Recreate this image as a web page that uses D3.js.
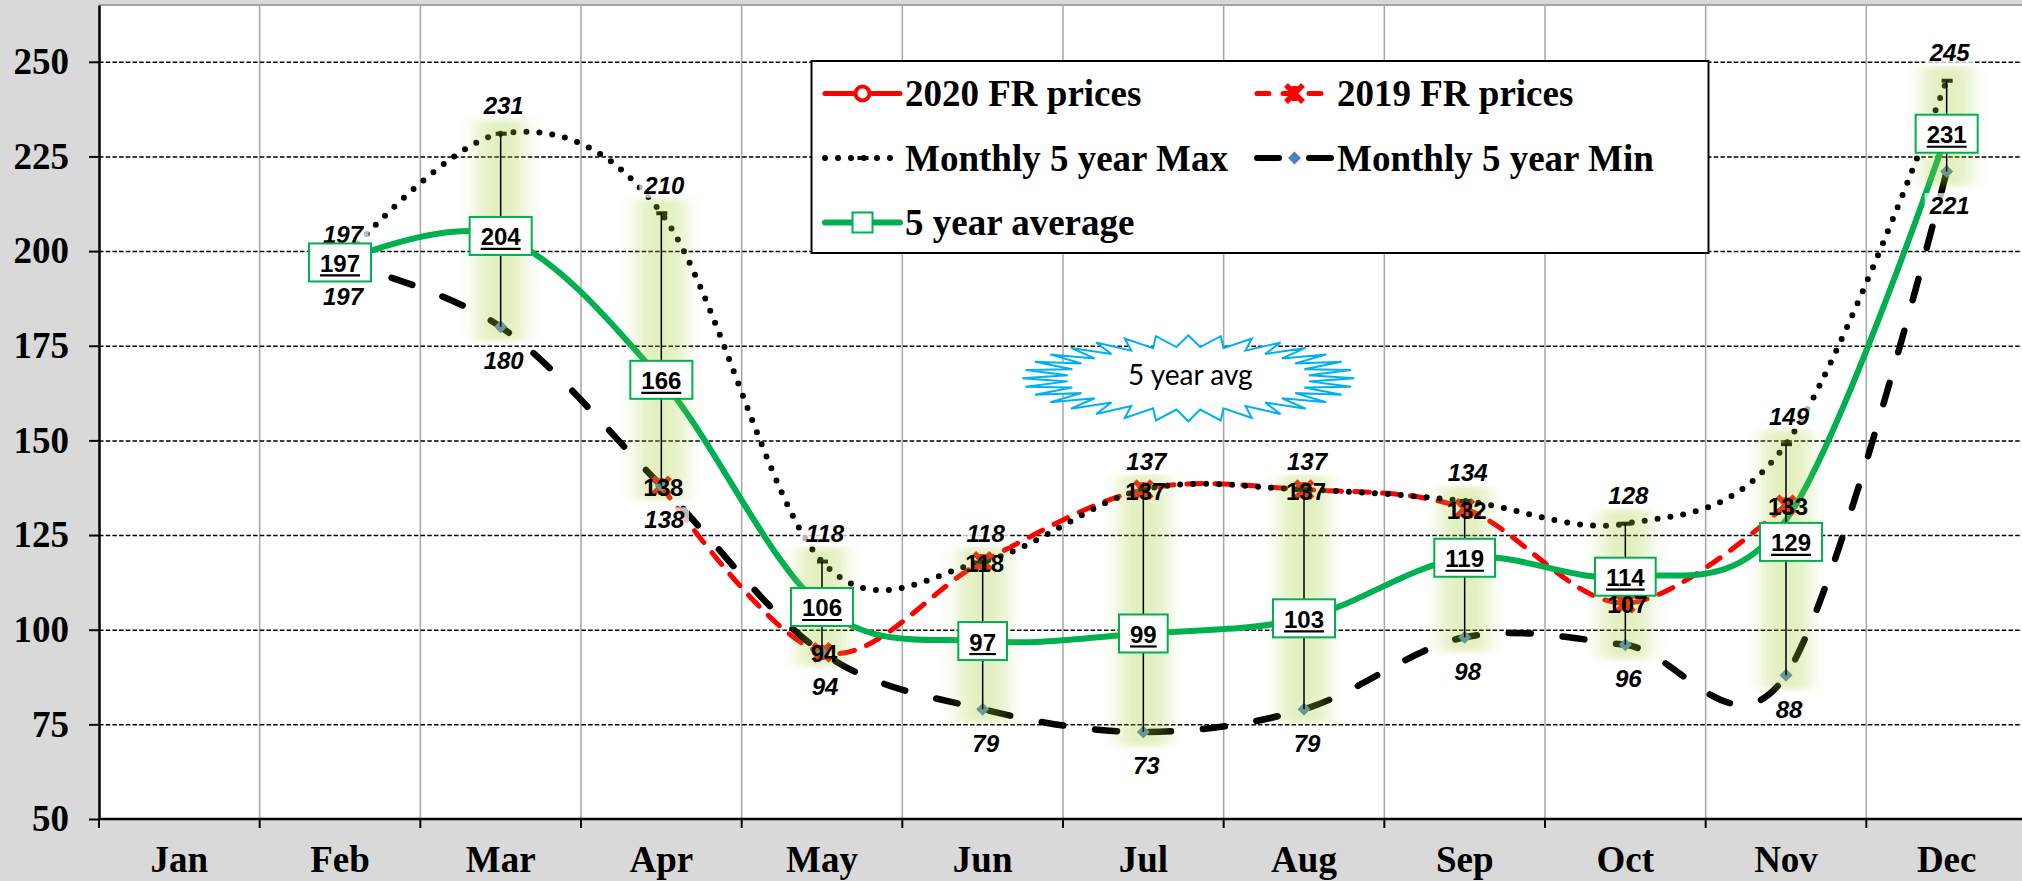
<!DOCTYPE html>
<html>
<head>
<meta charset="utf-8">
<script src="https://cdn.jsdelivr.net/npm/d3@7"></script>
<style>
  html, body { margin: 0; padding: 0; background: #d9d9d9; }
  svg { display: block; }
</style>
</head>
<body>
<div id="chart"></div>
<script>
const months = ["Jan", "Feb", "Mar", "Apr", "May", "Jun", "Jul", "Aug", "Sep", "Oct", "Nov", "Dec"];
const prices2020 = [null, null, null, null, null, null, null, null, null, null, null, null];
const prices2019 = [null, null, null, 138, 94, 118, 137, 137, 132, 107, 133, null];
const max5 = [null, 197, 231, 210, 118, 118, 137, 137, 134, 128, 149, 245];
const min5 = [null, 197, 180, 138, 94, 79, 73, 79, 98, 96, 88, 221];
const avg5 = [null, 197, 204, 166, 106, 97, 99, 103, 119, 114, 129, 231];
const yTicks = [50, 75, 100, 125, 150, 175, 200, 225, 250];
const legendNames = ["2020 FR prices", "2019 FR prices", "Monthly 5 year Max", "Monthly 5 year Min", "5 year average"];
const calloutText = "5 year avg";

const W = 2022, H = 881;
const plot = { left: 99, right: 2027, top: 5, bottom: 819 };
const SERIF = "'Liberation Serif', 'Times New Roman', serif";
const SANS = "'Liberation Sans', Arial, sans-serif";
const RED = "#ff0000", GREEN = "#00b050", BLUE = "#4f81bd";

// the Nov average label was dragged down below the 2019 label in the original
const avgLabelShift = { Nov: 22 };

const svg = d3.select("#chart").append("svg").attr("width", W).attr("height", H);

const x = d3.scaleBand().domain(months).range([plot.left, plot.right]);
const y = d3.scaleLinear().domain([50, 265]).range([plot.bottom, plot.top]);
const cx = m => x(m) + x.bandwidth() / 2;

const series = arr => months.map((m, i) => ({ m, v: arr[i] }));

// glow filter
const defs = svg.append("defs");
defs.append("filter").attr("id", "glow")
  .attr("x", "-100%").attr("y", "-20%").attr("width", "300%").attr("height", "140%")
  .append("feGaussianBlur").attr("stdDeviation", "9 3");

// background + plot area
svg.append("rect").attr("width", W).attr("height", H).attr("fill", "#d9d9d9");
svg.append("rect")
  .attr("x", plot.left).attr("y", plot.top)
  .attr("width", W - plot.left).attr("height", plot.bottom - plot.top)
  .attr("fill", "#fff");
svg.append("line")
  .attr("x1", plot.left).attr("x2", W).attr("y1", plot.top).attr("y2", plot.top)
  .attr("stroke", "#a6a6a6").attr("stroke-width", 2);

// vertical gridlines at month boundaries
svg.append("g").selectAll("line")
  .data(months.slice(1))
  .join("line")
  .attr("x1", d => x(d)).attr("x2", d => x(d))
  .attr("y1", plot.top).attr("y2", plot.bottom)
  .attr("stroke", "#a6a6a6").attr("stroke-width", 1.5);

// horizontal gridlines
svg.append("g")
  .attr("transform", `translate(${plot.left},0)`)
  .call(d3.axisLeft(y).tickValues(yTicks.slice(1)).tickSize(-(W - plot.left)).tickFormat(""))
  .call(g => g.select(".domain").remove())
  .call(g => g.selectAll(".tick line")
    .attr("stroke", "#000").attr("stroke-width", 1.5).attr("stroke-dasharray", "4.5 2.2"));

// lines
const line = d3.line()
  .defined(d => d.v != null)
  .x(d => cx(d.m))
  .y(d => y(d.v))
  .curve(d3.curveCatmullRom.alpha(0));

const gLines = svg.append("g").attr("fill", "none");

gLines.append("path").attr("d", line(series(prices2020)))
  .attr("stroke", RED).attr("stroke-width", 5);

gLines.append("path").attr("d", line(series(prices2019)))
  .attr("stroke", RED).attr("stroke-width", 5)
  .attr("stroke-dasharray", "15 13").attr("stroke-linecap", "round");

gLines.append("path").attr("d", line(series(max5)))
  .attr("stroke", "#000").attr("stroke-width", 6)
  .attr("stroke-dasharray", "0 13").attr("stroke-linecap", "round");

gLines.append("path").attr("d", line(series(min5)))
  .attr("stroke", "#000").attr("stroke-width", 6.5)
  .attr("stroke-dasharray", "22 32").attr("stroke-linecap", "round");

gLines.append("path").attr("d", line(series(avg5)))
  .attr("stroke", GREEN).attr("stroke-width", 6);

// markers
function starMarker(g, px, py) {
  const s = 8.5;
  g.append("path")
    .attr("d", `M${px - s},${py - s}L${px + s},${py + s}M${px - s},${py + s}L${px + s},${py - s}M${px},${py - s + 1}L${px},${py + s - 1}`)
    .attr("stroke", RED).attr("stroke-width", 5.5).attr("fill", "none");
}
function diamondMarker(g, px, py) {
  const s = 6.5;
  g.append("path")
    .attr("d", `M${px},${py - s}L${px + s},${py}L${px},${py + s}L${px - s},${py}Z`)
    .attr("fill", BLUE);
}
function dashMarker(g, px, py) {
  g.append("rect").attr("x", px - 5).attr("y", py - 2).attr("width", 11).attr("height", 4).attr("fill", "#000");
}

const gMarks = svg.append("g");
series(prices2019).filter(d => d.v != null).forEach(d => starMarker(gMarks, cx(d.m), y(d.v)));
series(max5).filter(d => d.v != null).forEach(d => dashMarker(gMarks, cx(d.m), y(d.v)));
series(min5).filter(d => d.v != null).forEach(d => diamondMarker(gMarks, cx(d.m), y(d.v)));

// high-low glow + lines
const hl = months.map((m, i) => ({ m, hi: max5[i], lo: min5[i] }))
  .filter(d => d.hi != null && d.lo != null && d.hi !== d.lo);

svg.append("g").selectAll("rect")
  .data(hl)
  .join("rect")
  .attr("x", d => cx(d.m) - 24)
  .attr("width", 48)
  .attr("y", d => y(d.hi) - 14)
  .attr("height", d => y(d.lo) - y(d.hi) + 28)
  .attr("fill", "rgb(160,205,45)")
  .attr("opacity", 0.3)
  .attr("filter", "url(#glow)");

svg.append("g").selectAll("line")
  .data(hl)
  .join("line")
  .attr("x1", d => cx(d.m)).attr("x2", d => cx(d.m))
  .attr("y1", d => y(d.hi)).attr("y2", d => y(d.lo))
  .attr("stroke", "#000").attr("stroke-width", 1.5);

// axes
const yAxis = svg.append("g")
  .attr("transform", `translate(${plot.left},0)`)
  .call(d3.axisLeft(y).tickValues(yTicks).tickSize(10).tickSizeOuter(0).tickPadding(20));
yAxis.select(".domain").attr("stroke", "#000").attr("stroke-width", 2.5);
yAxis.selectAll(".tick line").attr("stroke", "#000").attr("stroke-width", 2);
yAxis.selectAll(".tick text")
  .attr("font-family", SERIF).attr("font-weight", "bold").attr("font-size", 37).attr("fill", "#000");

const xAxis = svg.append("g")
  .attr("transform", `translate(0,${plot.bottom})`)
  .call(d3.axisBottom(x).tickSize(0).tickSizeOuter(0).tickPadding(27));
xAxis.select(".domain").remove();
xAxis.selectAll(".tick text")
  .attr("font-family", SERIF).attr("font-weight", "bold").attr("font-size", 37).attr("fill", "#000");

svg.append("line")
  .attr("x1", plot.left).attr("x2", W).attr("y1", plot.bottom).attr("y2", plot.bottom)
  .attr("stroke", "#000").attr("stroke-width", 2.5);
svg.append("g").selectAll("line")
  .data(months)
  .join("line")
  .attr("x1", d => x(d)).attr("x2", d => x(d))
  .attr("y1", plot.bottom).attr("y2", plot.bottom + 9)
  .attr("stroke", "#000").attr("stroke-width", 2);

// data labels
const gLabels = svg.append("g");

function bgLabel(px, py, txt, italic) {
  const g = gLabels.append("g");
  const bg = g.append("rect").attr("fill", "#fff").attr("opacity", 0.72);
  const t = g.append("text")
    .attr("x", px).attr("y", py + 8.5)
    .attr("text-anchor", "middle")
    .attr("font-family", SANS).attr("font-weight", "bold")
    .attr("font-style", italic ? "italic" : "normal")
    .attr("font-size", 24).attr("fill", "#000")
    .text(txt);
  const bb = t.node().getBBox();
  bg.attr("x", bb.x - 4).attr("y", bb.y + 1).attr("width", bb.width + 8).attr("height", bb.height - 2);
}

series(max5).filter(d => d.v != null).forEach(d => bgLabel(cx(d.m) + 3, y(d.v) - 28, d.v, true));
series(min5).filter(d => d.v != null).forEach(d => bgLabel(cx(d.m) + 3, y(d.v) + 34, d.v, true));

// 5-year average boxes
series(avg5).filter(d => d.v != null).forEach(d => {
  const px = cx(d.m) + (d.m === "Nov" ? 5 : 0);
  const py = y(d.v) + (avgLabelShift[d.m] || 0);
  const g = gLabels.append("g");
  const box = g.append("rect").attr("fill", "#fff").attr("stroke", GREEN).attr("stroke-width", 2);
  const t = g.append("text")
    .attr("x", px).attr("y", py + 9.5)
    .attr("text-anchor", "middle")
    .attr("font-family", SANS).attr("font-weight", "bold").attr("font-size", 24)
    .text(d.v);
  const len = t.node().getComputedTextLength();
  g.append("line")
    .attr("x1", px - len / 2).attr("x2", px + len / 2)
    .attr("y1", py + 13).attr("y2", py + 13)
    .attr("stroke", "#000").attr("stroke-width", 2.2);
  box.attr("x", px - len / 2 - 11).attr("y", py - 19).attr("width", len + 22).attr("height", 38);
});

// 2019 labels sit on top of their markers
gLabels.selectAll(".lab2019")
  .data(series(prices2019).filter(d => d.v != null))
  .join("text")
  .attr("class", "lab2019")
  .attr("x", d => cx(d.m) + 2).attr("y", d => y(d.v) + 10)
  .attr("text-anchor", "middle")
  .attr("font-family", SANS).attr("font-weight", "bold").attr("font-size", 24)
  .text(d => d.v);

// callout starburst
const calloutX = x("Jul") + x.bandwidth() * 0.78;
const calloutY = y(166.4);
const nPts = 32, rx = 166, ry = 43, inner = 0.73;
const starPts = d3.range(nPts * 2).map(i => {
  const a = -Math.PI / 2 + i * Math.PI / nPts;
  const r = i % 2 === 0 ? 1 : inner;
  return [calloutX + rx * r * Math.cos(a), calloutY + ry * r * Math.sin(a)];
});
svg.append("path")
  .attr("d", d3.line()(starPts) + "Z")
  .attr("fill", "#fff").attr("stroke", "#00b0f0").attr("stroke-width", 2);
svg.append("text")
  .attr("x", calloutX + 2).attr("y", calloutY + 7)
  .attr("text-anchor", "middle")
  .attr("font-family", "Lato, 'Open Sans', sans-serif").attr("font-size", 28).attr("fill", "#000")
  .text(calloutText);

// legend
const lg = svg.append("g");
lg.append("rect")
  .attr("x", 811.5).attr("y", 61).attr("width", 897).attr("height", 192)
  .attr("fill", "#fff").attr("stroke", "#000").attr("stroke-width", 2);

const legendPos = [
  { x: 825, y: 93.5 }, { x: 1257, y: 93.5 },
  { x: 825, y: 158 }, { x: 1257, y: 158 },
  { x: 825, y: 222.5 }
];
const symW = 75;

legendPos.forEach((p, i) => {
  const mid = p.x + symW / 2;
  const ln = lg.append("line").attr("x1", p.x).attr("x2", p.x + symW).attr("y1", p.y).attr("y2", p.y);
  if (i === 0) {
    ln.attr("stroke", RED).attr("stroke-width", 5).attr("stroke-linecap", "round");
    lg.append("circle").attr("cx", mid).attr("cy", p.y).attr("r", 7)
      .attr("fill", "#fff").attr("stroke", RED).attr("stroke-width", 4);
  } else if (i === 1) {
    ln.attr("stroke", RED).attr("stroke-width", 5).attr("stroke-linecap", "round").attr("stroke-dasharray", "12 14");
    starMarker(lg, mid, p.y);
  } else if (i === 2) {
    ln.attr("stroke", "#000").attr("stroke-width", 6).attr("stroke-linecap", "round").attr("stroke-dasharray", "0 13");
    dashMarker(lg, mid, p.y);
  } else if (i === 3) {
    ln.attr("stroke", "#000").attr("stroke-width", 6).attr("stroke-linecap", "round").attr("stroke-dasharray", "22 30");
    diamondMarker(lg, mid, p.y);
  } else {
    ln.attr("stroke", GREEN).attr("stroke-width", 6).attr("stroke-linecap", "round");
    lg.append("rect").attr("x", mid - 10).attr("y", p.y - 10).attr("width", 20).attr("height", 20)
      .attr("fill", "#fff").attr("stroke", GREEN).attr("stroke-width", 2);
  }
  lg.append("text")
    .attr("x", p.x + symW + 5).attr("y", p.y + 12.5)
    .attr("font-family", SERIF).attr("font-weight", "bold").attr("font-size", 37).attr("fill", "#000")
    .text(legendNames[i]);
});
</script>
</body>
</html>
